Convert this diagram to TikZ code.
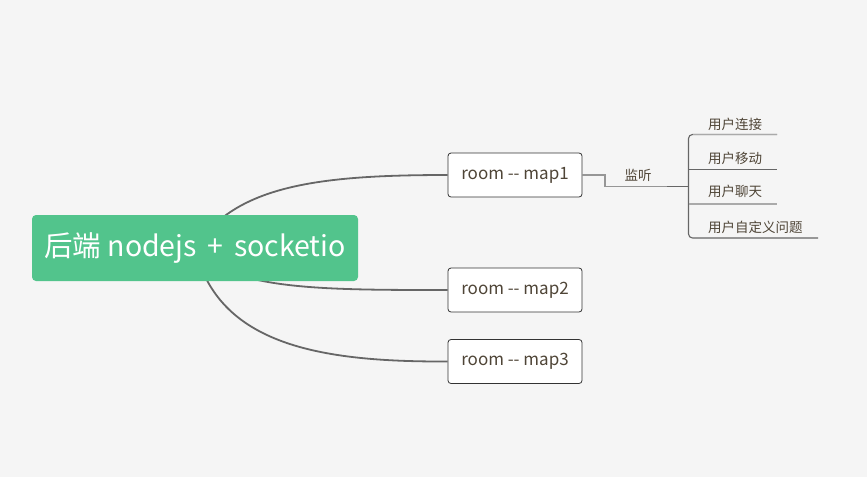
\documentclass[tikz,border=0pt]{standalone}
\usepackage{fontspec}
\setmainfont{Noto Sans CJK SC}
\definecolor{bg}{HTML}{F5F5F5}
\definecolor{green}{HTML}{52C48C}
\definecolor{linec}{HTML}{666666}
\definecolor{txt}{HTML}{4F4537}
\definecolor{lightl}{HTML}{AAAAAA}
\tikzset{
  roombox/.style={draw=black!80, fill=white, rounded corners=3pt, minimum width=134pt, minimum height=44pt, inner sep=0pt, font=\fontsize{17}{20}\selectfont, text=txt, line width=0.8pt},
  branch/.style={draw=linec, line width=1.8pt},
  sublabel/.style={font=\fontsize{13.5}{16}\selectfont, text=txt, anchor=west, inner sep=0pt},
}
\newcommand{\rtext}[1]{\raisebox{-1.5pt}{#1}}
\begin{document}
\begin{tikzpicture}[x=1pt,y=-1pt]
\fill[bg] (0,0) rectangle (867,477);
\useasboundingbox (0,0) rectangle (867,477);
% room nodes
\node[roombox] (m1) at (515,175) {\rtext{room -{}- map1}};
\node[roombox] (m2) at (515,290) {\rtext{room -{}- map2}};
\node[roombox] (m3) at (515,361.5) {\rtext{room -{}- map3}};
\coordinate (c) at (195,248);
% curves
\draw[branch] (c) .. controls (235,185) and (320,175) .. (m1.west);
\draw[branch] (c) .. controls (230,290) and (320,290) .. (m2.west);
\draw[branch] (c) .. controls (218,345) and (320,362) .. (m3.west);
% central node
\node[fill=green, rounded corners=4pt, minimum width=326pt, minimum height=66pt, text=white, font=\fontsize{28.5}{33}\selectfont, inner sep=0pt] (root) at (195,248) {\raisebox{-1pt}{后端 nodejs\hspace{0.15em} +\hspace{0.15em} socketio}};
% sub branch
\node[font=\fontsize{13.5}{16}\selectfont, text=txt, inner sep=0pt] (lis) at (638,175) {监听};
\coordinate (j) at (667,186.5);
\draw[lightl!70!linec, line width=1.2pt] (m1.east) -- (605,175) -- (605,186.5) -- (j);
\draw[linec, line width=1.8pt] (j) -- (688,186.5);
\node[sublabel] (u1) at (708,124) {用户连接};
\node[sublabel] (u2) at (708,158) {用户移动};
\node[sublabel] (u3) at (708,191.5) {用户聊天};
\node[sublabel] (u4) at (708,227) {用户自定义问题};
\draw[linec, line width=1.1pt, rounded corners=4pt] (777,134.5) -- (688.5,134.5) -- (688.5,238) -- (818,238);
\draw[lightl, line width=1.2pt] (693,134.5) -- (777,134.5);
\draw[linec, line width=1.1pt] (688.5,169.5) -- (777,169.5);
\draw[lightl, line width=1.2pt] (688.5,204) -- (777,204);
\end{tikzpicture}
\end{document}
